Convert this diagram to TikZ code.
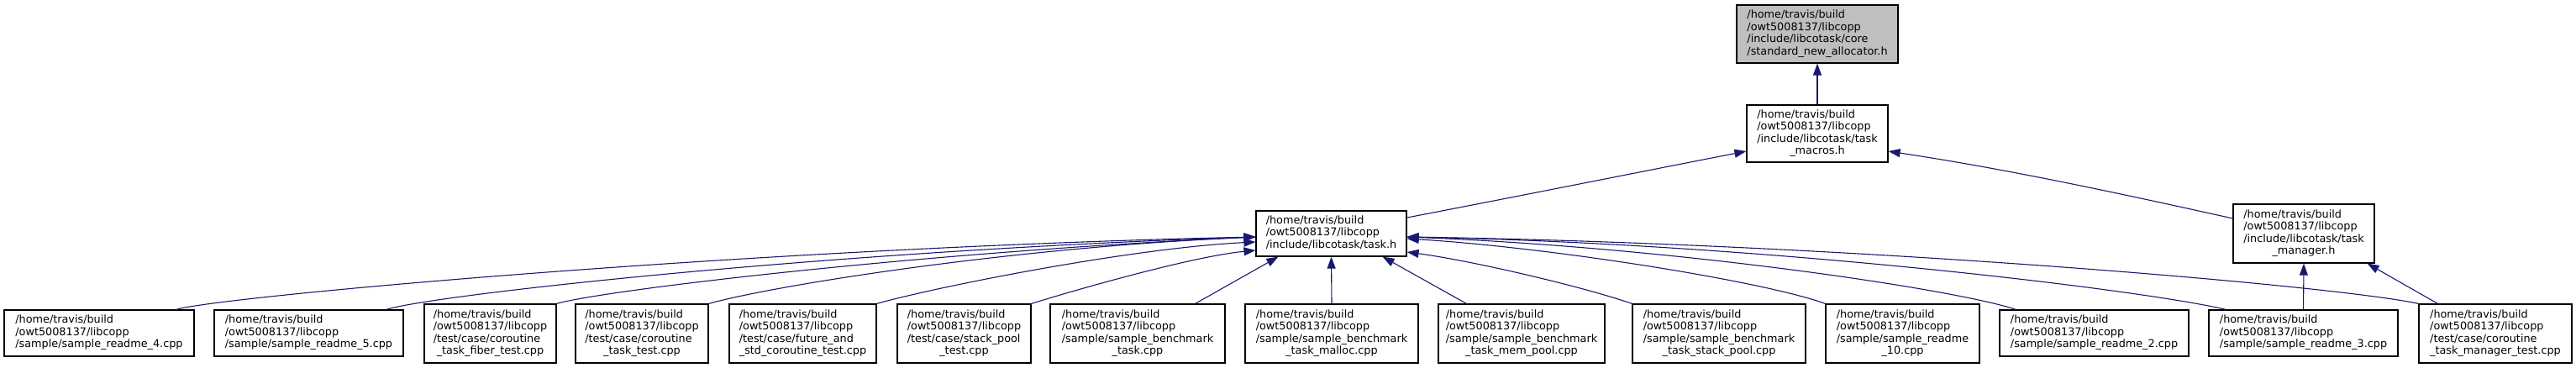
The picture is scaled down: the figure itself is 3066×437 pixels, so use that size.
\documentclass[tikz,border=0pt]{standalone}
\usepackage{fontspec}
\setmainfont{DejaVu Sans}
\usetikzlibrary{arrows.meta}
\definecolor{edgeblue}{HTML}{191970}
\definecolor{hlgray}{HTML}{BFBFBF}
\newcommand\flab[2]{\begin{tabular}{@{}l@{}}#1\\\multicolumn{1}{@{}c@{}}{#2}\end{tabular}}
\begin{document}
\begin{tikzpicture}[x=1pt,y=-1pt,
  box/.style={draw=black, line width=1.2pt, fill=white, inner sep=0pt, text=black,
    font=\fontsize{12.8pt}{14.5pt}\selectfont},
  edge/.style={draw=edgeblue, line width=1.1pt, -{Triangle[length=14pt,width=10pt]}, edgeblue}]
\useasboundingbox (0,0) rectangle (3066,437);

\node[box, fill=hlgray, minimum width=192pt, minimum height=69pt] (top) at (2163,40.5)
  {\flab{/home/travis/build\\/owt5008137/libcopp\\/include/libcotask/core}{/standard\_new\_allocator.h}};
\node[box, minimum width=168pt, minimum height=68pt] (macros) at (2163,159)
  {\flab{/home/travis/build\\/owt5008137/libcopp\\/include/libcotask/task}{\_macros.h}};
\node[box, minimum width=179pt, minimum height=54pt] (task) at (1584.5,278)
  {\flab{/home/travis/build\\/owt5008137/libcopp}{/include/libcotask/task.h}};
\node[box, minimum width=168pt, minimum height=70pt] (manager) at (2742,278)
  {\flab{/home/travis/build\\/owt5008137/libcopp\\/include/libcotask/task}{\_manager.h}};

\node[box, minimum width=226pt, minimum height=55pt] (n1) at (118,396.5)
  {\flab{/home/travis/build\\/owt5008137/libcopp}{/sample/sample\_readme\_4.cpp}};
\node[box, minimum width=225pt, minimum height=55pt] (n2) at (367.5,396.5)
  {\flab{/home/travis/build\\/owt5008137/libcopp}{/sample/sample\_readme\_5.cpp}};
\node[box, minimum width=157pt, minimum height=70pt] (n3) at (583.5,397)
  {\flab{/home/travis/build\\/owt5008137/libcopp\\/test/case/coroutine}{\_task\_fiber\_test.cpp}};
\node[box, minimum width=158pt, minimum height=70pt] (n4) at (764,397)
  {\flab{/home/travis/build\\/owt5008137/libcopp\\/test/case/coroutine}{\_task\_test.cpp}};
\node[box, minimum width=175pt, minimum height=70pt] (n5) at (955.5,397)
  {\flab{/home/travis/build\\/owt5008137/libcopp\\/test/case/future\_and}{\_std\_coroutine\_test.cpp}};
\node[box, minimum width=159pt, minimum height=70pt] (n6) at (1147.5,397)
  {\flab{/home/travis/build\\/owt5008137/libcopp\\/test/case/stack\_pool}{\_test.cpp}};
\node[box, minimum width=208pt, minimum height=70pt] (n7) at (1354,397)
  {\flab{/home/travis/build\\/owt5008137/libcopp\\/sample/sample\_benchmark}{\_task.cpp}};
\node[box, minimum width=206pt, minimum height=70pt] (n8) at (1585,397)
  {\flab{/home/travis/build\\/owt5008137/libcopp\\/sample/sample\_benchmark}{\_task\_malloc.cpp}};
\node[box, minimum width=198pt, minimum height=70pt] (n9) at (1811,397)
  {\flab{/home/travis/build\\/owt5008137/libcopp\\/sample/sample\_benchmark}{\_task\_mem\_pool.cpp}};
\node[box, minimum width=206pt, minimum height=70pt] (n10) at (2046,397)
  {\flab{/home/travis/build\\/owt5008137/libcopp\\/sample/sample\_benchmark}{\_task\_stack\_pool.cpp}};
\node[box, minimum width=183pt, minimum height=70pt] (n11) at (2264.5,397)
  {\flab{/home/travis/build\\/owt5008137/libcopp\\/sample/sample\_readme}{\_10.cpp}};
\node[box, minimum width=225pt, minimum height=55pt] (n12) at (2492.5,396.5)
  {\flab{/home/travis/build\\/owt5008137/libcopp}{/sample/sample\_readme\_2.cpp}};
\node[box, minimum width=225pt, minimum height=55pt] (n13) at (2741.5,396.5)
  {\flab{/home/travis/build\\/owt5008137/libcopp}{/sample/sample\_readme\_3.cpp}};
\node[box, minimum width=182pt, minimum height=70pt] (n14) at (2970,397)
  {\flab{/home/travis/build\\/owt5008137/libcopp\\/test/case/coroutine}{\_task\_manager\_test.cpp}};

% upper edges
\draw[edge] (macros.north) -- (top.south);
\draw[edge] ([yshift=19pt]task.east) .. controls (1800,235) and (1950,205) .. ([yshift=-21pt]macros.west);
\draw[edge] ([yshift=18pt]manager.west) .. controls (2500,225) and (2380,200) .. ([yshift=-21pt]macros.east);
\draw[edge] (n13.north) -- (manager.south);
\draw[edge] ([xshift=23pt]n14.north west) -- ([xshift=-9pt]manager.south east);

% left edges into task.h
\draw[edge] ([xshift=-22pt]n1.north east) .. controls (260,353) and (900,295) .. ([yshift=-4pt]task.west);
\draw[edge] ([xshift=-21pt]n2.north east) .. controls (520,350) and (1000,298) .. ([yshift=-4pt]task.west);
\draw[edge] (n3.north east) .. controls (720,345) and (1100,300) .. ([yshift=-4pt]task.west);
\draw[edge] (n4.north east) .. controls (920,340) and (1200,295) .. ([yshift=-4pt]task.west);
\draw[edge] (n5.north east) .. controls (1120,340) and (1350,295) .. ([yshift=-10pt]task.west);
\draw[edge] (n6.north east) .. controls (1280,345) and (1420,305) .. ([yshift=-20pt]task.west);
\draw[edge] ([xshift=-36pt]n7.north east) -- ([xshift=27pt]task.south west);
\draw[edge] (n8.north) -- (task.south);
\draw[edge] ([xshift=34pt]n9.north west) -- ([xshift=-29pt]task.south east);
% right edges into task.h
\draw[edge] (n10.north west) .. controls (1880,340) and (1750,310) .. ([yshift=-22pt]task.east);
\draw[edge] (n11.north west) .. controls (2100,335) and (1850,295) .. ([yshift=-6pt]task.east);
\draw[edge] ([xshift=20pt]n12.north west) .. controls (2330,345) and (2000,295) .. ([yshift=-4pt]task.east);
\draw[edge] ([xshift=21pt]n13.north west) .. controls (2550,345) and (2100,290) .. ([yshift=-4pt]task.east);
\draw[edge] (n14.north west) .. controls (2780,340) and (2200,290) .. ([yshift=-4pt]task.east);
\end{tikzpicture}
\end{document}
